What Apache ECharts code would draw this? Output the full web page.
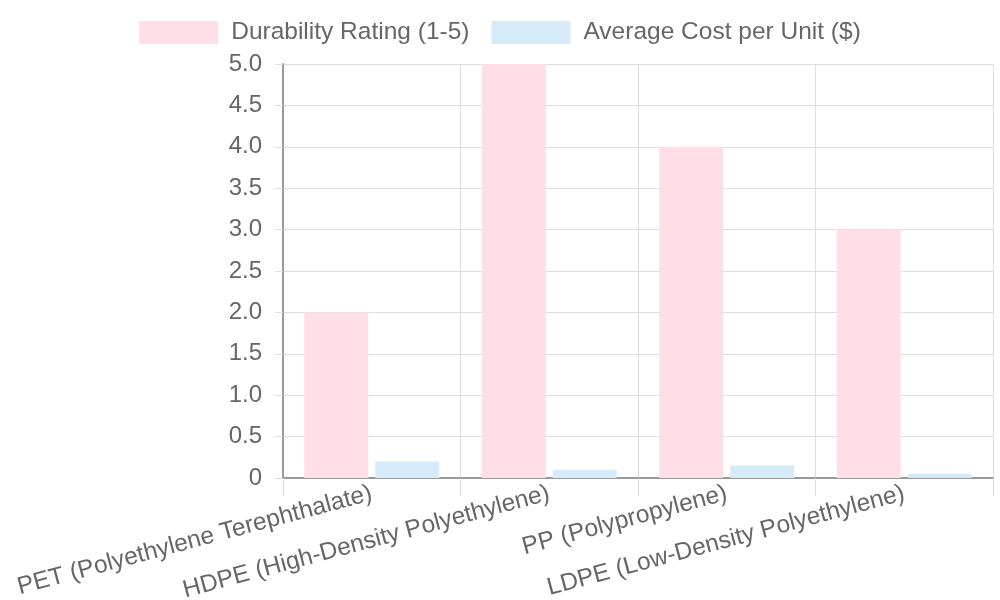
<!DOCTYPE html>
<html>
<head>
<meta charset="utf-8">
<script src="https://cdn.jsdelivr.net/npm/echarts@6/dist/echarts.min.js"></script>
<style>
  html, body { margin: 0; padding: 0; background: #fff; }
  #chart { width: 1000px; height: 600px; }
</style>
</head>
<body>
<div id="chart"></div>
<script>
const categories = [
  'PET (Polyethylene Terephthalate)',
  'HDPE (High-Density Polyethylene)',
  'PP (Polypropylene)',
  'LDPE (Low-Density Polyethylene)'
];
const durability = [2, 5, 4, 3];
const avgCost = [0.2, 0.1, 0.15, 0.05];

const font = 'Liberation Sans, Arial, sans-serif';
const chart = echarts.init(document.getElementById('chart'));

const option = {
  animation: false,
  textStyle: { fontFamily: font },
  legend: {
    top: 15,
    left: 'center',
    itemWidth: 79,
    itemHeight: 23,
    itemGap: 22,
    icon: 'rect',
    textStyle: { fontSize: 24.5, color: '#666', fontFamily: font, padding: [0, 0, 0, 8] },
    data: ['Durability Rating (1-5)', 'Average Cost per Unit ($)']
  },
  grid: { left: 283, right: 7, top: 64, bottom: 122, outerBoundsMode: 'none' },
  xAxis: {
    type: 'category',
    data: categories,
    axisLine: { lineStyle: { color: '#999', width: 2 } },
    axisTick: { show: true, length: 18, lineStyle: { color: '#ddd' } },
    splitLine: { show: true, lineStyle: { color: '#ddd' } },
    axisLabel: {
      rotate: 15,
      interval: 0,
      margin: 15,
      fontSize: 24.5,
      color: '#666',
      fontFamily: font
    }
  },
  yAxis: {
    type: 'value',
    min: 0,
    max: 5,
    interval: 0.5,
    axisLine: { show: true, lineStyle: { color: '#999', width: 2 } },
    axisTick: { show: true, length: 8, lineStyle: { color: '#ddd' } },
    splitLine: { show: true, lineStyle: { color: '#ddd' } },
    axisLabel: {
      margin: 21,
      fontSize: 24,
      color: '#666',
      fontFamily: font,
      formatter: v => (v === 0 ? '0' : v.toFixed(1))
    }
  },
  series: [
    {
      name: 'Durability Rating (1-5)',
      type: 'bar',
      data: durability,
      barWidth: 64,
      barGap: '11%',
      itemStyle: { color: '#FFDFE5' }
    },
    {
      name: 'Average Cost per Unit ($)',
      type: 'bar',
      data: avgCost,
      barWidth: 64,
      itemStyle: { color: '#D6EBFA' }
    }
  ]
};

chart.setOption(option);
</script>
</body>
</html>
